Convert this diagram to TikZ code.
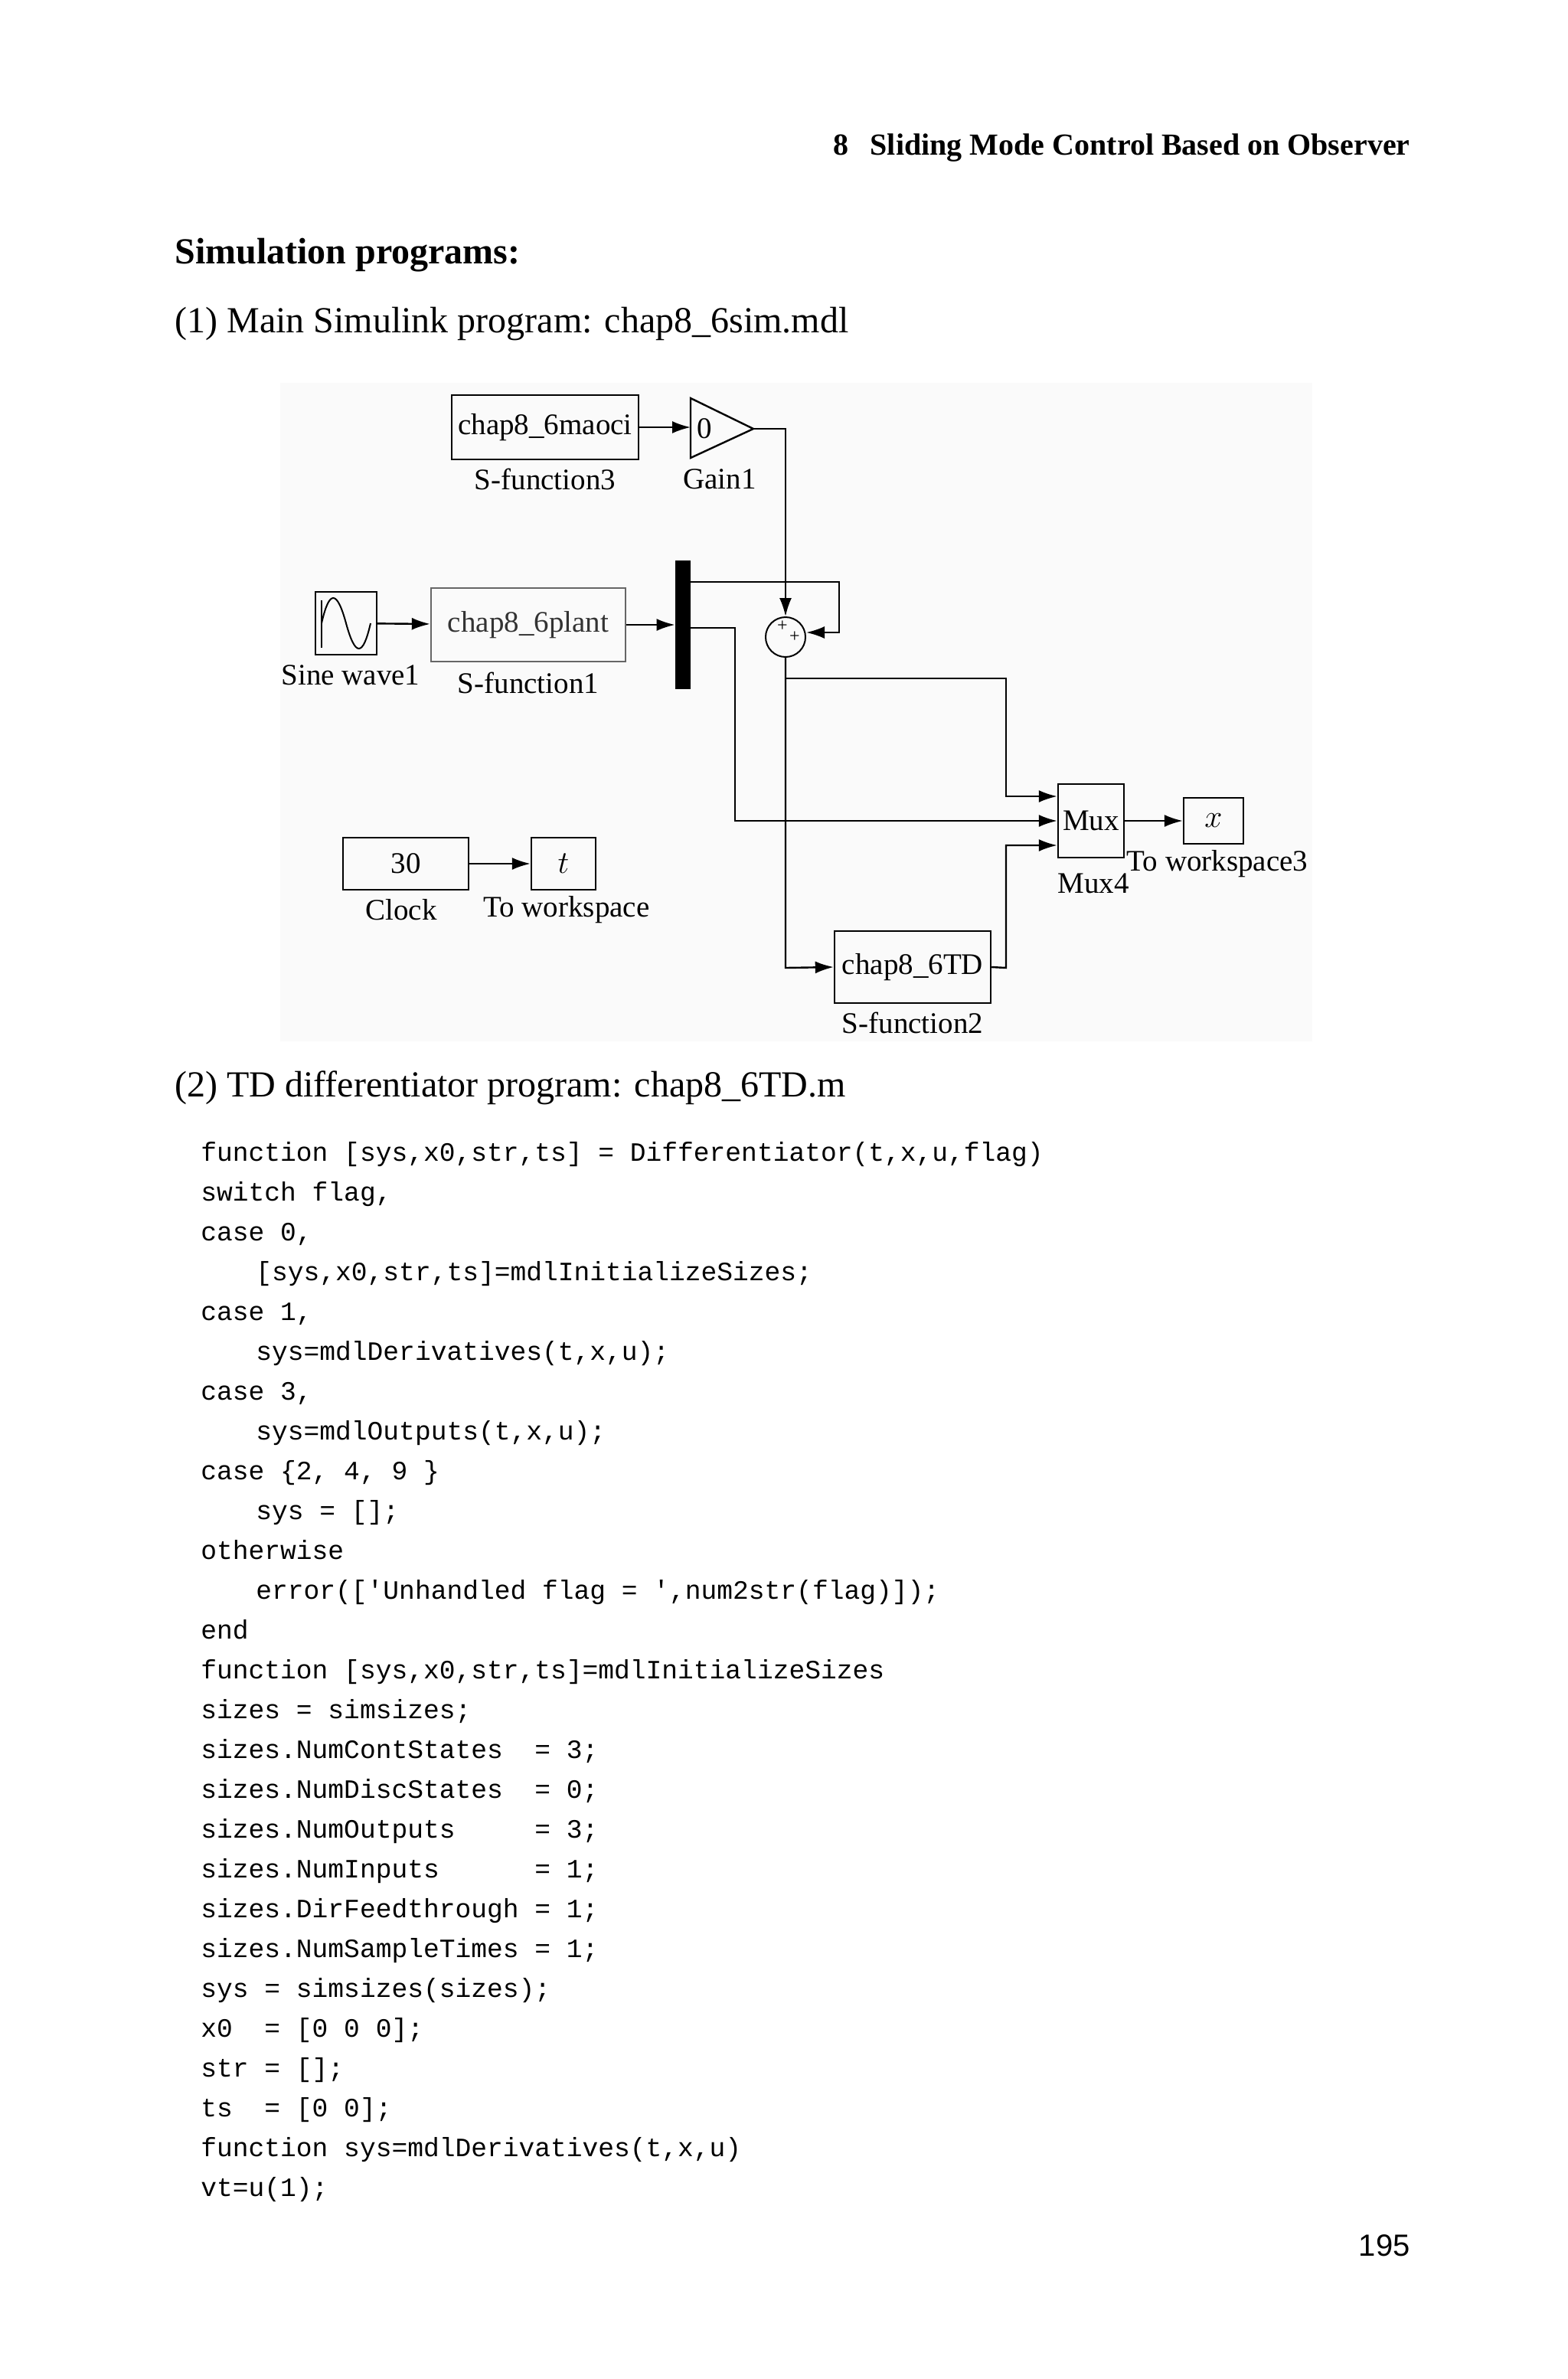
\documentclass[tikz,border=0pt]{standalone}
\usepackage{fontspec}
\setmainfont{Liberation Serif}
\setmonofont{Liberation Mono}
\newfontfamily\pgnum{Liberation Sans}
\usetikzlibrary{arrows.meta, positioning}
\tikzstyle{block} = [rectangle, draw, line width=1.2pt, inner sep=0pt, font=\fontsize{19.5}{21}\selectfont]
\tikzstyle{lbl} = [font=\fontsize{19.5}{21}\selectfont, inner sep=0pt]
\tikzstyle{arrow} = [line width=1.2pt,-{Latex[length=12pt,width=8pt]}]
\tikzstyle{wire} = [line width=1.2pt]
\tikzstyle{code} = [anchor=base west, inner sep=0pt, font=\ttfamily\fontsize{17.3}{20}\selectfont]
\begin{document}
\begin{tikzpicture}[x=1pt, y=-1pt]
     \useasboundingbox (0,0) rectangle (1024,1553.5);
     % Text
     \node [anchor=base east, inner sep=0pt, font=\bfseries\fontsize{20}{24}\selectfont] (head) at (921,101) {8\hspace{14pt}Sliding Mode Control Based on Observer};
     \node [anchor=base west, inner sep=0pt, font=\bfseries\fontsize{24}{26}\selectfont] (simprog) at (114,172) {Simulation programs:};
     \node [anchor=base west, inner sep=0pt, font=\fontsize{24}{26}\selectfont] (mainprog) at (114,217) {(1) Main Simulink program: chap8\_6sim.mdl};
     \fill [black!2] (183,250) rectangle (857,680);
     % Nodes
     \node [block, minimum width=122pt, minimum height=42pt] (maoci) at (356,279) {chap8\_6maoci};
     \node [lbl] (sf3) at (356,313) {S-function3};
     \draw [wire] (451,260) -- (492,280) -- (451,299) -- cycle;
     \coordinate (gain) at (492,280);
     \node [lbl] (zero) at (460,280) {0};
     \node [lbl] (gain1) at (470,313) {Gain1};
     \node [block, minimum width=40pt, minimum height=41pt] (sine) at (226,407) {};
     \draw [wire] (210,392) -- (210,423);
     \draw [line width=1pt] (210,407) .. controls (215,385) and (220,385) .. (226,407) .. controls (232,429) and (237,429) .. (242,407);
     \node [lbl] (sinelbl) at (229,441) {Sine wave1};
     \node [block, draw=black!60, minimum width=127pt, minimum height=48pt, text=black!80] (plant) at (345,408) {chap8\_6plant};
     \node [lbl] (sf1) at (345,446) {S-function1};
     \node [rectangle, fill=black, minimum width=10pt, minimum height=84pt, inner sep=0pt] (bar) at (446,408) {};
     \node [circle, draw, line width=1pt, minimum size=26pt, inner sep=0pt] (sum) at (513,416) {};
     \node [font=\fontsize{12}{12}\selectfont, inner sep=0pt] (p1) at (511,409) {+};
     \node [font=\fontsize{12}{12}\selectfont, inner sep=0pt] (p2) at (519,416) {+};
     \node [block, minimum width=43pt, minimum height=48pt] (mux) at (712.5,536) {Mux};
     \node [lbl] (mux4) at (714,577) {Mux4};
     \node [block, minimum width=39pt, minimum height=30pt] (xout) at (792.5,536) {$x$};
     \node [lbl] (ws3) at (795,564) {To workspace3};
     \node [block, minimum width=102pt, minimum height=47pt] (td) at (596,631.5) {chap8\_6TD};
     \node [lbl] (sf2) at (596,668) {S-function2};
     \node [block, minimum width=82pt, minimum height=34pt] (clock) at (265,564) {30};
     \node [lbl] (clocklbl) at (262,594) {Clock};
     \node [block, minimum width=42pt, minimum height=34pt] (tout) at (368,564) {$t$};
     \node [lbl] (ws) at (370,594) {To workspace};
     % Arrows
     \draw [arrow] (maoci) -- (451,279);
     \draw [arrow] (gain) -- (513,280) -- (sum.north);
     \draw [arrow] (sine) -- (plant);
     \draw [arrow] (plant) -- (bar.west |- plant);
     \draw [arrow] (bar.east |- 0,380) -- (548,380) -- (548,413) -- (sum.east |- 0,413);
     \draw [arrow] (bar.east |- 0,410) -- (480,410) -- (480,536) -- (mux.west);
     \draw [arrow] (sum.south) -- (513,632) -- (td.west);
     \draw [arrow] (513,443) -- (657,443) -- (657,520) -- (mux.west |- 0,520);
     \draw [arrow] (td.east) -- (657,632) -- (657,552) -- (mux.west |- 0,552);
     \draw [arrow] (mux) -- (xout);
     \draw [arrow] (clock) -- (tout);
     % Code
     \node [anchor=base west, inner sep=0pt, font=\fontsize{24}{26}\selectfont] (tdprog) at (114,716) {(2) TD differentiator program: chap8\_6TD.m};
     \node [code] (c0) at (131,758) {function [sys,x0,str,ts] = Differentiator(t,x,u,flag)};
     \node [code] (c1) at (131,784) {switch flag,};
     \node [code] (c2) at (131,810) {case 0,};
     \node [code] (c3) at (167,836) {[sys,x0,str,ts]=mdlInitializeSizes;};
     \node [code] (c4) at (131,862) {case 1,};
     \node [code] (c5) at (167,888) {sys=mdlDerivatives(t,x,u);};
     \node [code] (c6) at (131,914) {case 3,};
     \node [code] (c7) at (167,940) {sys=mdlOutputs(t,x,u);};
     \node [code] (c8) at (131,966) {case \{2, 4, 9 \}};
     \node [code] (c9) at (167,992) {sys = [];};
     \node [code] (c10) at (131,1018) {otherwise};
     \node [code] (c11) at (167,1044) {error(['Unhandled flag = ',num2str(flag)]);};
     \node [code] (c12) at (131,1070) {end};
     \node [code] (c13) at (131,1096) {function [sys,x0,str,ts]=mdlInitializeSizes};
     \node [code] (c14) at (131,1122) {sizes = simsizes;};
     \node [code] (c15) at (131,1148) {sizes.NumContStates\ \ = 3;};
     \node [code] (c16) at (131,1174) {sizes.NumDiscStates\ \ = 0;};
     \node [code] (c17) at (131,1200) {sizes.NumOutputs\ \ \ \ \ = 3;};
     \node [code] (c18) at (131,1226) {sizes.NumInputs\ \ \ \ \ \ = 1;};
     \node [code] (c19) at (131,1252) {sizes.DirFeedthrough = 1;};
     \node [code] (c20) at (131,1278) {sizes.NumSampleTimes = 1;};
     \node [code] (c21) at (131,1304) {sys = simsizes(sizes);};
     \node [code] (c22) at (131,1330) {x0\ \ = [0 0 0];};
     \node [code] (c23) at (131,1356) {str = [];};
     \node [code] (c24) at (131,1382) {ts\ \ = [0 0];};
     \node [code] (c25) at (131,1408) {function sys=mdlDerivatives(t,x,u)};
     \node [code] (c26) at (131,1434) {vt=u(1);};
     \node [anchor=base east, inner sep=0pt, font=\pgnum\fontsize{20}{24}\selectfont] (pnum) at (921,1473) {195};
\end{tikzpicture}
\end{document}
